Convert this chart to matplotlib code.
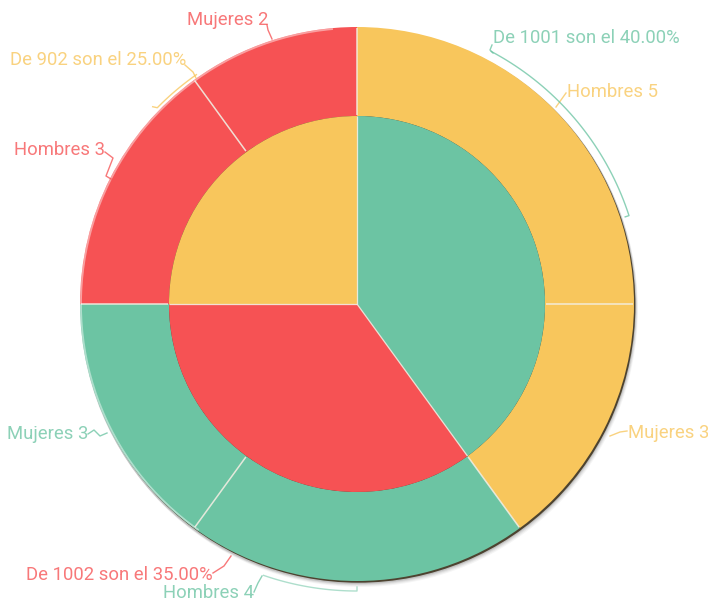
import matplotlib.pyplot as plt
import matplotlib.patches as mpatches
import numpy as np

plt.rcParams['font.family'] = ['Roboto', 'DejaVu Sans']

# inner ring: share of each group
groups = ['1001', '1002', '902']
group_pct = [40.0, 35.0, 25.0]

# outer ring: people in each group
outer_labels = ['Hombres', 'Mujeres', 'Hombres', 'Mujeres', 'Hombres', 'Mujeres']
outer_vals = [5, 3, 4, 3, 3, 2]

GREEN = '#6cc4a3'
RED = '#f65254'
YELLOW = '#f8c65c'
inner_colors = [GREEN, RED, YELLOW]
outer_colors = [YELLOW, YELLOW, GREEN, GREEN, RED, RED]

W, H = 708, 603
CX, CY = 357, 304
R_OUT, R_IN = 277, 188
SEP = '#f3efe4'


def px(x, y):
  # pixel position -> data coords centred on the pie
  return x - CX, CY - y


def polar(angle, r):
  # angle in degrees clockwise from 12 o'clock
  a = np.radians(angle)
  return r * np.sin(a), r * np.cos(a)


def bracket(a0, a1, r, n=40):
  a = np.radians(np.linspace(a0, a1, n))
  return list(r * np.sin(a)), list(r * np.cos(a))


def separators(vals, r0, r1, lw):
  edges = np.cumsum([0] + list(vals)) / float(sum(vals)) * 360.0
  for a in edges[:-1]:
    x0, y0 = polar(a, r0)
    x1, y1 = polar(a, r1)
    ax.plot([x0, x1], [y0, y1], color=SEP, lw=lw, alpha=0.9, zorder=4,
            solid_capstyle='butt')


fig = plt.figure(figsize=(W / 100, H / 100), dpi=100)
ax = fig.add_axes([0, 0, 1, 1])

# soft drop shadow and dark rim on the lower right
for off, al in [(5, 0.04), (4, 0.05), (3, 0.07), (2, 0.1)]:
  ax.add_patch(mpatches.Circle((off * 0.6, -off), R_OUT + 1, color='#000000',
                               alpha=al, lw=0, zorder=0))
ax.add_patch(mpatches.Circle((1.4, -1.7), R_OUT, color='#4d4330', lw=0, zorder=1))

ax.pie(outer_vals, radius=R_OUT, colors=outer_colors, startangle=90,
       counterclock=False,
       wedgeprops=dict(width=R_OUT - R_IN, linewidth=0))
ax.pie(group_pct, radius=R_IN, colors=inner_colors, startangle=90,
       counterclock=False, wedgeprops=dict(linewidth=0))

separators(outer_vals, R_IN + 1, R_OUT - 1, 1.1)
separators(group_pct, 0, R_IN, 0.9)

# light rim on the upper left edge
ax.add_patch(mpatches.Arc((0, 0), 2 * R_OUT - 2, 2 * R_OUT - 2, theta1=95,
                          theta2=235, color='white', alpha=0.45, lw=1.3, zorder=5))

fs = 13.3
a_txt = 0.78

group_text = ['De {} son el {:.2f}%'.format(g, p) for g, p in zip(groups, group_pct)]
outer_text = ['{} {}'.format(l, v) for l, v in zip(outer_labels, outer_vals)]

# labels: text, colour, anchor pixel, alignment, leader points (pixels)
labels = [
    (group_text[0], inner_colors[0], (493, 38), 'left',
     [(492, 45), (490, 50), (493, 53)]),
    (outer_text[0], outer_colors[0], (567, 92), 'left',
     [(556, 107), (566, 93)]),
    (outer_text[1], outer_colors[1], (628, 433), 'left',
     [(610, 436), (620, 432), (627, 431)]),
    (outer_text[2], outer_colors[2], (254, 593), 'right',
     [(254, 592), (258, 583), (262, 576)]),
    (group_text[1], inner_colors[1], (213, 575), 'right',
     [(213, 573), (224, 566), (231, 556)]),
    (outer_text[3], outer_colors[3], (88, 434), 'right',
     [(88, 434), (94, 430), (100, 436), (107, 433)]),
    (outer_text[4], outer_colors[4], (105, 150), 'right',
     [(105, 152), (113, 158), (106, 176), (111, 179)]),
    (group_text[2], inner_colors[2], (186, 60), 'right',
     [(185, 65), (193, 72), (196, 78)]),
    (outer_text[5], outer_colors[5], (268, 20), 'right',
     [(267, 25), (268, 30), (272, 39)]),
]

for txt, col, (tx, ty), ha, pts in labels:
  x, y = px(tx, ty)
  ax.text(x, y, txt, color=col, alpha=a_txt, fontsize=fs, ha=ha, va='center',
          zorder=6)
  xs, ys = zip(*[px(*p) for p in pts])
  ax.plot(xs, ys, color=col, alpha=a_txt, lw=1.0, zorder=6)

# bracket for the 1001 group along the outer edge
bx, by = bracket(28, 72, 286)
ex, ey = polar(72, 282)
ax.plot(bx + [ex], by + [ey], color=GREEN, alpha=a_txt, lw=1.0, zorder=6)

# bracket for Hombres 4 under the ring
bx, by = bracket(199, 180, 287)
ex, ey = polar(180, 283)
ax.plot(bx + [ex], by + [ey], color=GREEN, alpha=0.55, lw=1.0, zorder=6)

# bracket for the 902 group
bx, by = bracket(325, 314.5, 280)
ex, ey = polar(314, 284)
ax.plot(bx + [ex], by + [ey], color=YELLOW, alpha=a_txt, lw=1.0, zorder=6)

ax.set_xlim(-CX, W - CX)
ax.set_ylim(CY - H, CY)
ax.set_aspect('equal')
ax.axis('off')

fig.savefig('out.png', dpi=100, facecolor='white')
